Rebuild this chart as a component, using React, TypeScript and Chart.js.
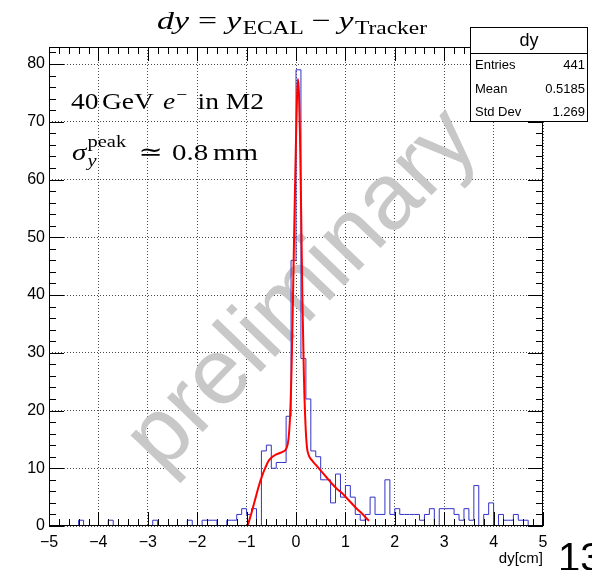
import React, { useEffect, useRef } from "react";
import { Chart, registerables } from "chart.js";

Chart.register(...registerables);

// Histogram binning: 100 bins of 0.1 cm between -5 and 5
const X_MIN = -5;
const X_MAX = 5;
const BIN_WIDTH = 0.1;
const Y_MAX = 82.95;

// Entries per bin (dy = y_ECAL - y_Tracker, in cm)
const counts = [
  0, 0, 0, 0, 0, 0, 1, 0, 0, 0,
  0, 0, 1, 0, 0, 0, 0, 0, 0, 0,
  0, 1, 0, 0, 0, 0, 0, 0, 1, 0,
  0, 1, 1, 1, 0, 0, 1, 1, 2, 3,
  2, 3, 0, 13, 14, 10, 11, 11, 19, 46,
  79, 29, 22, 13, 12, 8, 8, 4, 9, 5,
  7, 5, 2, 1, 2, 5, 2, 2, 8, 2,
  3, 2, 2, 2, 2, 1, 2, 3, 0, 3,
  3, 3, 2, 1, 3, 1, 7, 0, 2, 4,
  0, 2, 1, 1, 2, 1, 1, 0, 0, 0,
];

// Fitted function, sampled along the fit range
const fitX = [
  -0.98, -0.9, -0.83, -0.76, -0.69, -0.62, -0.56, -0.49, -0.42, -0.34,
  -0.26, -0.19, -0.15, -0.12, -0.09, -0.06, -0.03, 0.0, 0.02, 0.04,
  0.06, 0.08, 0.1, 0.13, 0.16, 0.19, 0.22, 0.26, 0.32, 0.42,
  0.52, 0.62, 0.72, 0.82, 0.93, 1.03, 1.13, 1.23, 1.33, 1.43, 1.48,
];
const fitY = [
  0, 2.3, 4.5, 6.7, 8.6, 10.1, 11.2, 11.9, 12.3, 12.6,
  12.9, 13.5, 15.2, 19, 27, 40, 54, 67, 74, 77.4,
  75, 68, 57, 39, 26, 18, 13.8, 12.2, 11.4, 10.4,
  9.4, 8.4, 7.4, 6.5, 5.7, 4.8, 3.9, 3.0, 2.2, 1.3, 0.9,
];

const xTickValues = [-5, -4, -3, -2, -1, 0, 1, 2, 3, 4, 5];
const yTickValues = [0, 10, 20, 30, 40, 50, 60, 70, 80];

const statsTitle = "dy";
const statsLabels = ["Entries", "Mean", "Std Dev"];
const statsValues = ["441", "0.5185", "1.269"];

const SANS = "'Liberation Sans', Arial, Helvetica, sans-serif";
const SERIF = "'Liberation Serif', 'DejaVu Serif', serif";

const fmtTick = (v: number) => (v < 0 ? "\u2212" + Math.abs(v) : String(v));

// A run of text; "stack" draws it at the same x as the previous run
// (super/subscript pair), advancing by the wider of the two.
type Piece = { text: string; font: string; rise?: number; gap?: number; stack?: boolean };

function layoutPieces(ctx: CanvasRenderingContext2D, pieces: Piece[]) {
  const xs: number[] = [];
  let cx = 0;
  let prevX = 0;
  let prevW = 0;
  pieces.forEach((p) => {
    ctx.font = p.font;
    const w = ctx.measureText(p.text).width;
    if (p.stack) {
      xs.push(prevX);
      cx = prevX + Math.max(prevW, w);
      prevW = Math.max(prevW, w);
    } else {
      const x = cx + (p.gap ?? 0);
      xs.push(x);
      prevX = x;
      prevW = w;
      cx = x + w;
    }
  });
  return { xs, width: cx };
}

// Draws the runs squeezed/stretched horizontally to a given total width
function drawPieces(
  ctx: CanvasRenderingContext2D,
  pieces: Piece[],
  x: number,
  y: number,
  targetWidth: number,
  align: "left" | "center"
) {
  const { xs, width } = layoutPieces(ctx, pieces);
  const s = targetWidth / width;
  const start = align === "center" ? x - targetWidth / 2 : x;
  ctx.save();
  ctx.translate(start, y);
  ctx.scale(s, 1);
  ctx.textAlign = "left";
  ctx.textBaseline = "alphabetic";
  pieces.forEach((p, i) => {
    ctx.font = p.font;
    ctx.fillText(p.text, xs[i], -(p.rise ?? 0));
  });
  ctx.restore();
}

const rootDecorations = {
  id: "rootDecorations",
  beforeDatasetsDraw(chart: any) {
    const ctx: CanvasRenderingContext2D = chart.ctx;
    ctx.save();
    ctx.translate(303, 291);
    ctx.rotate((-46 * Math.PI) / 180);
    ctx.font = `94px ${SANS}`;
    ctx.fillStyle = "#c8c8c8";
    ctx.textAlign = "center";
    ctx.textBaseline = "middle";
    ctx.fillText("preliminary", 0, 0);
    ctx.restore();
  },
  afterDatasetsDraw(chart: any) {
    const ctx: CanvasRenderingContext2D = chart.ctx;
    const xs = chart.scales.x;
    const ys = chart.scales.y;
    const { left, right, top, bottom } = chart.chartArea;

    ctx.save();
    ctx.strokeStyle = "#000";
    ctx.lineWidth = 1;

    // frame
    ctx.strokeRect(left + 0.5, top + 0.5, right - left - 1, bottom - top - 1);

    // tick marks on all four sides
    ctx.beginPath();
    for (let k = 0; k <= 50; k++) {
      const v = X_MIN + k * 0.2;
      const px = Math.round(xs.getPixelForValue(v)) + 0.5;
      const len = k % 5 === 0 ? 14 : 7;
      ctx.moveTo(px, bottom);
      ctx.lineTo(px, bottom - len);
      ctx.moveTo(px, top);
      ctx.lineTo(px, top + len);
    }
    for (let k = 0; k <= 41; k++) {
      const v = k * 2;
      const py = Math.round(ys.getPixelForValue(v)) + 0.5;
      const len = k % 5 === 0 ? 15 : 7;
      ctx.moveTo(left, py);
      ctx.lineTo(left + len, py);
      ctx.moveTo(right, py);
      ctx.lineTo(right - len, py);
    }
    ctx.stroke();

    // statistics box
    const bx = 470, by = 27, bw = 118, bh = 95;
    ctx.fillStyle = "#fff";
    ctx.fillRect(bx, by, bw, bh);
    ctx.strokeRect(bx + 0.5, by + 0.5, bw - 1, bh - 1);
    ctx.beginPath();
    ctx.moveTo(bx, by + 26.5);
    ctx.lineTo(bx + bw, by + 26.5);
    ctx.stroke();
    ctx.fillStyle = "#000";
    ctx.font = `18px ${SANS}`;
    ctx.textAlign = "center";
    ctx.textBaseline = "alphabetic";
    ctx.fillText(statsTitle, bx + bw / 2, by + 19);
    ctx.font = `13px ${SANS}`;
    statsLabels.forEach((lab, i) => {
      const yy = by + 42 + i * 23.5;
      ctx.textAlign = "left";
      ctx.fillText(lab, bx + 5, yy);
      ctx.textAlign = "right";
      ctx.fillText(statsValues[i], bx + bw - 3, yy);
    });

    const it26 = `italic 26px ${SERIF}`;
    const rm26 = `26px ${SERIF}`;
    const rm18 = `18px ${SERIF}`;
    const it24 = `italic 24px ${SERIF}`;
    const rm24 = `24px ${SERIF}`;
    const rm17 = `17px ${SERIF}`;
    const it17 = `italic 17px ${SERIF}`;

    // title
    drawPieces(
      ctx,
      [
        { text: "dy", font: it26 },
        { text: "=", font: rm26, gap: 7 },
        { text: "y", font: it26, gap: 7 },
        { text: "ECAL", font: rm18, rise: -5, gap: 1 },
        { text: "\u2212", font: rm26, gap: 6 },
        { text: "y", font: it26, gap: 6 },
        { text: "Tracker", font: rm18, rise: -5, gap: 1 },
      ],
      292,
      29,
      270,
      "center"
    );

    // beam annotation
    drawPieces(
      ctx,
      [
        { text: "40", font: rm24 },
        { text: "GeV", font: rm24, gap: 3 },
        { text: "e", font: it24, gap: 8 },
        { text: "\u2212", font: rm17, rise: 9, gap: 1 },
        { text: "in", font: rm24, gap: 9 },
        { text: "M2", font: rm24, gap: 6 },
      ],
      71,
      109,
      193,
      "left"
    );

    // peak resolution annotation
    drawPieces(
      ctx,
      [
        { text: "\u03c3", font: it24 },
        { text: "peak", font: rm17, rise: 13, gap: 1 },
        { text: "y", font: it17, rise: -6, stack: true },
        { text: "\u2243", font: rm24, gap: 10 },
        { text: "0.8", font: rm24, gap: 8 },
        { text: "mm", font: rm24, gap: 4 },
      ],
      72,
      160,
      186,
      "left"
    );

    // axis title
    ctx.font = `15px ${SANS}`;
    ctx.textAlign = "right";
    ctx.fillText("dy[cm]", right, 563);

    // page number at the corner
    ctx.font = `40px ${SANS}`;
    ctx.textAlign = "left";
    ctx.fillText("13", 558, 571);

    ctx.restore();
  },
};

export default function App() {
  const ref = useRef<HTMLCanvasElement>(null);

  useEffect(() => {
    const canvas = ref.current;
    if (!canvas) return;

    const histPoints = counts.map((c, i) => ({ x: X_MIN + i * BIN_WIDTH, y: c }));
    histPoints.push({ x: X_MAX, y: counts[counts.length - 1] });
    const fitPoints = fitX.map((x, i) => ({ x, y: fitY[i] }));

    const chart = new Chart(canvas, {
      type: "line",
      data: {
        datasets: [
          {
            label: "fit",
            data: fitPoints,
            borderColor: "#ff0000",
            borderWidth: 2,
            pointRadius: 0,
            cubicInterpolationMode: "monotone",
            fill: false,
          },
          {
            label: "dy",
            data: histPoints,
            borderColor: "#3232c8",
            borderWidth: 1,
            pointRadius: 0,
            stepped: "before",
            fill: false,
          },
        ],
      },
      options: {
        animation: false,
        responsive: false,
        devicePixelRatio: 1,
        parsing: false,
        layout: { padding: { left: 0, right: 49, top: 47, bottom: 0 } },
        plugins: {
          legend: { display: false },
          tooltip: { enabled: false },
          title: { display: false },
        },
        scales: {
          x: {
            type: "linear",
            min: X_MIN,
            max: X_MAX,
            afterBuildTicks: (s: any) => {
              s.ticks = xTickValues.map((v) => ({ value: v }));
            },
            afterFit: (s: any) => {
              s.height = 44;
            },
            grid: { color: "rgba(0,0,0,0.7)", lineWidth: 1, drawTicks: false },
            border: { display: false, dash: [1, 2] },
            ticks: {
              color: "#000",
              font: { family: SANS, size: 16 },
              padding: 7,
              maxRotation: 0,
              autoSkip: false,
              callback: (v: any) => fmtTick(Number(v)),
            },
          },
          y: {
            type: "linear",
            min: 0,
            max: Y_MAX,
            afterBuildTicks: (s: any) => {
              s.ticks = yTickValues.map((v) => ({ value: v }));
            },
            afterFit: (s: any) => {
              s.width = 49;
            },
            grid: { color: "rgba(0,0,0,0.7)", lineWidth: 1, drawTicks: false },
            border: { display: false, dash: [1, 2] },
            ticks: {
              color: "#000",
              font: { family: SANS, size: 16 },
              padding: 4,
              autoSkip: false,
              callback: (v: any) => fmtTick(Number(v)),
            },
          },
        },
      },
      plugins: [rootDecorations],
    } as any);

    return () => chart.destroy();
  }, []);

  return (
    <div
      style={{
        position: "fixed",
        left: 0,
        top: 0,
        width: 592,
        height: 570,
        background: "#fff",
        overflow: "hidden",
      }}
    >
      <canvas ref={ref} width={592} height={570} style={{ display: "block", width: 592, height: 570 }} />
    </div>
  );
}
